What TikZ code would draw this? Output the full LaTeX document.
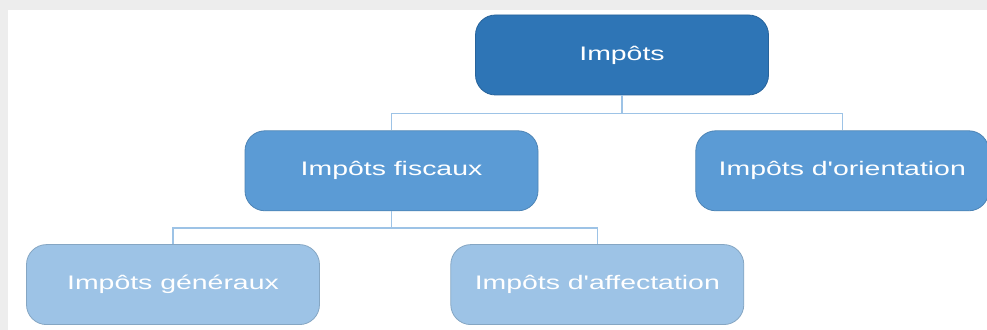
\documentclass[tikz,border=0pt]{standalone}
\usepackage{fontspec}
\newfontfamily\taxfont{Liberation Sans}
\usepackage{tikz}
\usetikzlibrary{positioning}
\definecolor{rootblue}{HTML}{2E75B6}
\definecolor{midblue}{HTML}{5B9BD5}
\definecolor{paleblue}{HTML}{9DC3E6}
\definecolor{linkblue}{HTML}{9DC3E6}
\newcommand{\widetext}[1]{\scalebox{1.45}[1]{#1}}
\tikzset{
taxbox/.style={rectangle, rounded corners=10pt, minimum width=146.5pt, minimum height=40pt,
  text=white, font=\taxfont\fontsize{9.8}{12}\selectfont, fill=#1, draw=#1!85!black, line width=0.4pt},
link/.style={draw=linkblue, line width=0.7pt}
}

\begin{document}
\begin{tikzpicture}[x=0.5pt,y=-0.5pt]
\fill[black!7] (0,0) rectangle (987,330);
\fill[white] (8,10) rectangle (987,330);
\useasboundingbox (0,0) rectangle (987,330);
\node[taxbox=rootblue] (imp) at (622,55) {\widetext{Impôts}};
%----------------------------------
\node[taxbox=midblue, below=17.5pt of imp, xshift=-115.25pt] (fisc) {\widetext{Impôts fiscaux}};
\node[taxbox=midblue, right=78.5pt of fisc] (orient) {\widetext{Impôts d'orientation}};
%----------------------------------
\node[taxbox=paleblue, below=16.5pt of fisc, xshift=-109.25pt] (gen) {\widetext{Impôts généraux}};
\node[taxbox=paleblue, right=65.25pt of gen] (affect) {\widetext{Impôts d'affectation}};
%----------------------------------
\draw[link] (imp.south) -- ++(0,18) -| (fisc.north);
\draw[link] (imp.south) -- ++(0,18) -| (orient.north);
\draw[link] (fisc.south) -- ++(0,17) -| (gen.north);
\draw[link] (fisc.south) -- ++(0,17) -| (affect.north);
\end{tikzpicture}
\end{document}
